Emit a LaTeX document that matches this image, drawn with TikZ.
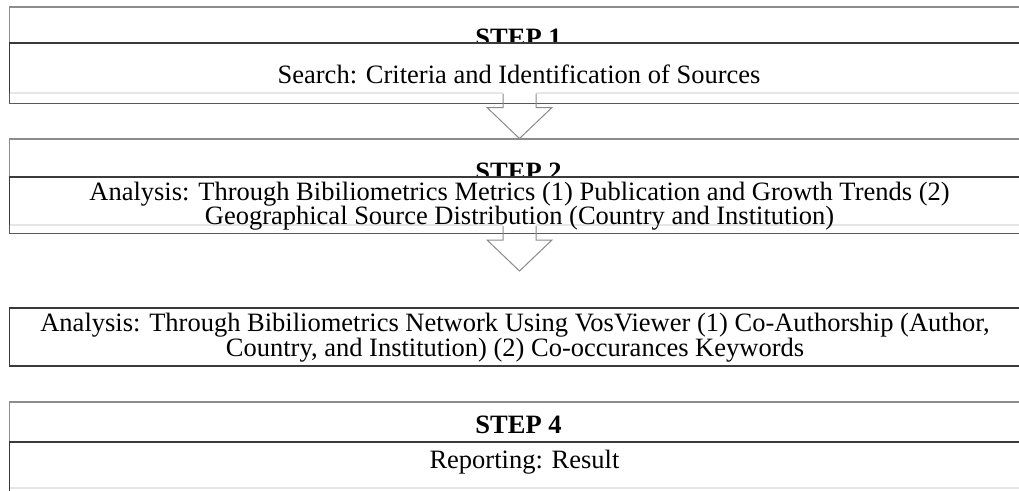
\documentclass[tikz,border=0pt]{standalone}
\usepackage{fontspec}
\setmainfont{Liberation Serif}
\definecolor{headgray}{HTML}{8C8C8C}
\definecolor{darkline}{HTML}{3A3A3A}
\definecolor{midline}{HTML}{5A5A5A}
\definecolor{faintline}{HTML}{E6E6E6}
\definecolor{arrowgray}{HTML}{8A8A8A}
\begin{document}
\begin{tikzpicture}[x=1pt,y=-1pt,
  headline/.style={draw=headgray,line width=1.1pt},
  divline/.style={draw=darkline,line width=1.2pt},
  bottomline/.style={draw=midline,line width=1.2pt},
  faint/.style={draw=faintline,line width=1.1pt},
  steplabel/.style={inner sep=0pt,anchor=base,font=\fontsize{26.5}{24.5}\selectfont\bfseries},
  bodytext/.style={inner sep=0pt,anchor=base,align=center,font=\fontsize{26.5}{24.5}\selectfont},
  blockarrow/.pic={\draw[draw=arrowgray,line width=1pt,line join=miter]
      (-16.5,-45) -- (-16.5,-31) -- (-32.5,-31) -- (0,0) -- (32.5,-31) -- (16.5,-31) -- (16.5,-45);}
]
\useasboundingbox (0,0) rectangle (1019,490);
\clip (0,0) rectangle (1019,490);

% ---- Step 1 ----
\draw[headline] (9.5,103.5) -- (9.5,7) -- (1030,7);
\node[steplabel] (h1) at (518.5,46) {STEP 1};
\fill[white] (10.1,43) rectangle (1030,103);
\draw[faint] (9.5,93) -- (503,93) (536,93) -- (1030,93);
\draw[divline] (1030,43) -- (9.5,43) -- (9.5,93);
\draw[bottomline] (9.5,93) -- (9.5,103.5) -- (1030,103.5);
\node[bodytext] (b1) at (519,83) {Search: Criteria and Identification of Sources};

\coordinate (t1) at (519.5,138.5);
\pic at (t1) {blockarrow};

% ---- Step 2 ----
\draw[headline] (9.5,233.5) -- (9.5,139) -- (1030,139);
\node[steplabel] (h2) at (518.5,180) {STEP 2};
\fill[white] (10.1,177) rectangle (1030,233);
\draw[faint] (9.5,225) -- (503,225) (536,225) -- (1030,225);
\draw[divline] (1030,177) -- (9.5,177) -- (9.5,225);
\draw[bottomline] (9.5,225) -- (9.5,233.5) -- (1030,233.5);
\node[bodytext] (b2) at (519.5,224.5) {Analysis: Through Bibiliometrics Metrics (1) Publication and Growth Trends (2)\\
Geographical Source Distribution (Country and Institution)};

\coordinate (t2) at (519.5,271);
\pic at (t2) {blockarrow};

% ---- Step 3 ----
\draw[divline] (1030,308) -- (9.5,308) -- (9.5,366) -- (1030,366);
\node[bodytext] (b3) at (515,356) {Analysis: Through Bibiliometrics Network Using VosViewer (1) Co-Authorship (Author,\\
Country, and Institution) (2) Co-occurances Keywords};

% ---- Step 4 ----
\draw[headline] (9.5,442) -- (9.5,402) -- (1030,402);
\node[steplabel] (h4) at (518.5,433) {STEP 4};
\draw[faint] (9.5,488) -- (1030,488);
\draw[divline] (1030,442) -- (9.5,442) -- (9.5,492);
\node[bodytext] (b4) at (524.5,468) {Reporting: Result};
\end{tikzpicture}
\end{document}
